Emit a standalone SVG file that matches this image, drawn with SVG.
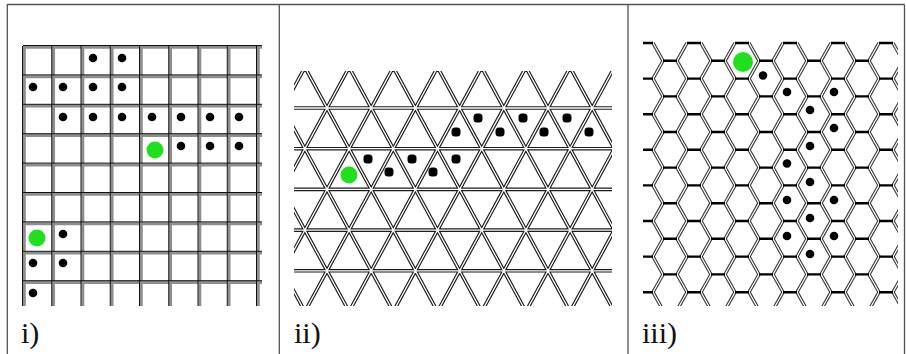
<svg xmlns="http://www.w3.org/2000/svg" xmlns:xlink="http://www.w3.org/1999/xlink" width="906" height="354" viewBox="0 0 906 354">
<style>
.frame{stroke:#555;stroke-width:1.3;fill:none}
.sqg{stroke:#8e8e8e;stroke-width:3;fill:none}
.sqb{stroke:#111;stroke-width:1;fill:none}
.tdark{stroke:#1c1c1c;stroke-width:3.6;fill:none}
.tlight{stroke:#fff;stroke-width:1.3;fill:none}
.hdark{stroke:#3a3a3a;stroke-width:3.4;fill:none}
.hlight{stroke:#fff;stroke-width:1.2;fill:none}
.hh{stroke:#000;stroke-width:2.4;fill:none;stroke-dasharray:14 34}
.dot{fill:#000}
.green{fill:#1fe01f}
.lbl{font-family:"Liberation Serif","DejaVu Serif",serif;font-size:30px;fill:#111}
</style>
<defs>
<clipPath id="clipSq"><rect x="20" y="44" width="242" height="262"/></clipPath>
<clipPath id="clipTri"><rect x="294" y="71" width="318" height="235"/></clipPath>
<clipPath id="clipHex"><rect x="643" y="40" width="255" height="266"/></clipPath>
<path id="sqV" d="M23,46V306M52.25,46V306M81.5,46V306M110.75,46V306M140,46V306M169.25,46V306M198.5,46V306M227.75,46V306M257,46V306"/>
<path id="sqH" d="M23,46H262M23,75.4H262M23,104.8H262M23,134.2H262M23,163.6H262M23,193H262M23,222.4H262M23,251.8H262M23,281.2H262"/>
<path id="tri" d="M294,108H612M294,148.7H612M294,189.4H612M294,230.1H612M294,270.8H612
M330.6,20l-184.6,340m228.8,-340l-184.6,340m228.8,-340l-184.6,340m228.8,-340l-184.6,340m228.8,-340l-184.6,340m228.8,-340l-184.6,340m228.8,-340l-184.6,340m228.8,-340l-184.6,340m228.8,-340l-184.6,340m228.8,-340l-184.6,340
M146.6,20l184.6,340m-140.4,-340l184.6,340m-140.4,-340l184.6,340m-140.4,-340l184.6,340m-140.4,-340l184.6,340m-140.4,-340l184.6,340m-140.4,-340l184.6,340m-140.4,-340l184.6,340m-140.4,-340l184.6,340m-140.4,-340l184.6,340"/>
<path id="zzA" d="M0,0l10,17.8l-10,17.8l10,17.8l-10,17.8l10,17.8l-10,17.8l10,17.8l-10,17.8l10,17.8l-10,17.8l10,17.8l-10,17.8l10,17.8l-10,17.8l10,17.8"/>
<path id="zzB" d="M0,0l-10,17.8l10,17.8l-10,17.8l10,17.8l-10,17.8l10,17.8l-10,17.8l10,17.8l-10,17.8l10,17.8l-10,17.8l10,17.8l-10,17.8l10,17.8l-10,17.8"/>
<g id="zigs">
<use xlink:href="#zzA" x="653" y="43"/><use xlink:href="#zzA" x="701" y="43"/><use xlink:href="#zzA" x="749" y="43"/><use xlink:href="#zzA" x="797" y="43"/><use xlink:href="#zzA" x="845" y="43"/><use xlink:href="#zzA" x="893" y="43"/>
<use xlink:href="#zzB" x="639" y="43"/><use xlink:href="#zzB" x="687" y="43"/><use xlink:href="#zzB" x="735" y="43"/><use xlink:href="#zzB" x="783" y="43"/><use xlink:href="#zzB" x="831" y="43"/><use xlink:href="#zzB" x="879" y="43"/>
</g>
</defs>
<rect width="906" height="354" fill="#fff"/>
<g id="frame" class="frame">
<path d="M7.3,4.5H904.5M7.3,4V354M279.3,4.5V354M628,4.5V354M904.5,4.5V354"/>
</g>
<g id="panel-i">
<g clip-path="url(#clipSq)">
<use xlink:href="#sqV" class="sqg" transform="translate(1.3,0)"/>
<use xlink:href="#sqH" class="sqg" transform="translate(0,1.3)"/>
<use xlink:href="#sqV" class="sqb" transform="translate(-0.5,0)"/>
<use xlink:href="#sqH" class="sqb" transform="translate(0,-0.5)"/>
</g>
<g class="dot">
<circle cx="93" cy="58" r="4.3"/><circle cx="122" cy="58" r="4.3"/>
<circle cx="33" cy="87" r="4.3"/><circle cx="63" cy="87" r="4.3"/><circle cx="93" cy="87" r="4.3"/><circle cx="122" cy="87" r="4.3"/>
<circle cx="63" cy="117" r="4.3"/><circle cx="93" cy="117" r="4.3"/><circle cx="122" cy="117" r="4.3"/><circle cx="152" cy="117" r="4.3"/><circle cx="181" cy="117" r="4.3"/><circle cx="210" cy="117" r="4.3"/><circle cx="239" cy="117" r="4.3"/>
<circle cx="181" cy="146" r="4.3"/><circle cx="210" cy="146" r="4.3"/><circle cx="239" cy="146" r="4.3"/>
<circle cx="63" cy="234" r="4.3"/>
<circle cx="33" cy="263" r="4.3"/><circle cx="63" cy="263" r="4.3"/>
<circle cx="33" cy="293" r="4.3"/>
</g>
<circle class="green" cx="155" cy="150" r="8.5"/>
<circle class="green" cx="37" cy="238" r="8.5"/>
<text class="lbl" x="21" y="343">i)</text>
</g>
<g id="panel-ii">
<g clip-path="url(#clipTri)">
<use xlink:href="#tri" class="tdark"/>
<use xlink:href="#tri" class="tlight"/>
</g>
<g class="dot">
<rect x="473.5" y="113.5" width="9" height="9" rx="3.5"/><rect x="518.5" y="113.5" width="9" height="9" rx="3.5"/><rect x="562.5" y="113.5" width="9" height="9" rx="3.5"/>
<rect x="451.5" y="127.5" width="9" height="9" rx="3.5"/><rect x="495.5" y="127.5" width="9" height="9" rx="3.5"/><rect x="539.5" y="127.5" width="9" height="9" rx="3.5"/><rect x="584.5" y="127.5" width="9" height="9" rx="3.5"/>
<rect x="363.5" y="154.5" width="9" height="9" rx="3.5"/><rect x="407.5" y="154.5" width="9" height="9" rx="3.5"/><rect x="451.5" y="154.5" width="9" height="9" rx="3.5"/>
<rect x="384.5" y="167.5" width="9" height="9" rx="3.5"/><rect x="428.5" y="167.5" width="9" height="9" rx="3.5"/>
</g>
<circle class="green" cx="349" cy="175" r="8.5"/>
<text class="lbl" x="294" y="343">ii)</text>
</g>
<g id="panel-iii">
<g clip-path="url(#clipHex)">
<use xlink:href="#zigs" class="hdark"/>
<use xlink:href="#zigs" class="hlight"/>
<path class="hh" d="M639,43H900"/>
<path class="hh" d="M615,60.8H920"/>
<path class="hh" d="M639,78.6H900"/>
<path class="hh" d="M615,96.4H920"/>
<path class="hh" d="M639,114.2H900"/>
<path class="hh" d="M615,132H920"/>
<path class="hh" d="M639,149.8H900"/>
<path class="hh" d="M615,167.6H920"/>
<path class="hh" d="M639,185.4H900"/>
<path class="hh" d="M615,203.2H920"/>
<path class="hh" d="M639,221H900"/>
<path class="hh" d="M615,238.8H920"/>
<path class="hh" d="M639,256.6H900"/>
<path class="hh" d="M615,274.4H920"/>
<path class="hh" d="M639,292.2H900"/>
<path class="hh" d="M615,310H920"/>
</g>
<g class="dot">
<circle cx="763" cy="75.5" r="4.3"/>
<circle cx="787" cy="92" r="4.3"/><circle cx="834" cy="92" r="4.3"/>
<circle cx="810" cy="110" r="4.3"/>
<circle cx="834" cy="128" r="4.3"/>
<circle cx="810" cy="146" r="4.3"/>
<circle cx="787" cy="163.5" r="4.3"/>
<circle cx="810" cy="182" r="4.3"/>
<circle cx="787" cy="200" r="4.3"/><circle cx="834" cy="200" r="4.3"/>
<circle cx="810" cy="218" r="4.3"/>
<circle cx="787" cy="236" r="4.3"/><circle cx="834" cy="236" r="4.3"/>
<circle cx="810" cy="254" r="4.3"/>
</g>
<circle class="green" cx="743" cy="62" r="10"/>
<text class="lbl" x="642" y="343">iii)</text>
</g>
</svg>
